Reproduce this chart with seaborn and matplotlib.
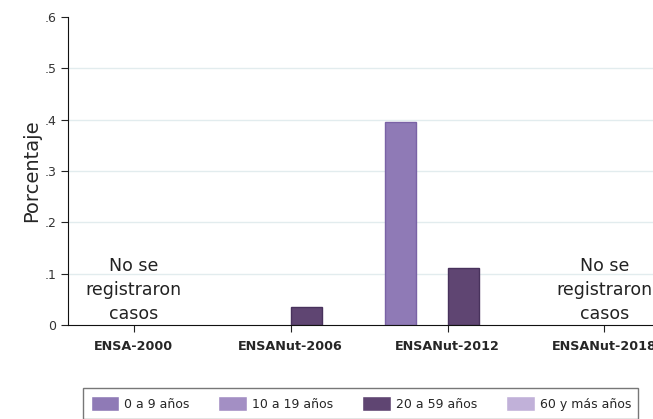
#recreate bar chart of percentage by age group and survey
import numpy as np
import pandas as pd
import matplotlib
matplotlib.use("Agg")
import matplotlib.pyplot as plt
import seaborn as sns

#data
surveys = ["ENSA-2000", "ENSANut-2006", "ENSANut-2012", "ENSANut-2018"]
age_groups = ["0 a 9 años", "10 a 19 años", "20 a 59 años", "60 y más años"]
# rows = survey, cols = age group, nan = no bar
values = [
    [np.nan, np.nan, np.nan, np.nan],
    [np.nan, np.nan, 0.035, np.nan],
    [0.395, np.nan, 0.111, np.nan],
    [np.nan, np.nan, np.nan, np.nan],
]
no_cases = ["ENSA-2000", "ENSANut-2018"]
ytick_vals = [0, 0.1, 0.2, 0.3, 0.4, 0.5, 0.6]
ytick_labels = ["0", ".1", ".2", ".3", ".4", ".5", ".6"]

colors = ["#8f7ab6", "#a38fc4", "#5f4572", "#c1b1d9"]
edges = ["#7a62a6", "#8e78b5", "#48325c", "#a996c8"]

rows = []
for i, s in enumerate(surveys):
    for j, g in enumerate(age_groups):
        rows.append({"survey": s, "grupo": g, "pct": values[i][j]})
df = pd.DataFrame(rows)

sns.set_style("white")
plt.rcParams["font.family"] = ["DejaVu Sans"]

fig = plt.figure(figsize=(6.53, 4.19), dpi=100)
ax = fig.add_axes([68 / 653, 1 - 325 / 419, 1 - 68 / 653, (325 - 17) / 419])

sns.barplot(data=df, x="survey", y="pct", hue="grupo", order=surveys,
            hue_order=age_groups, palette=colors, saturation=1, width=0.8,
            ax=ax, linewidth=1, legend=True)

# darker edge for each hue group
for j, cont in enumerate(ax.containers):
    for bar in cont:
        bar.set_edgecolor(edges[j])

ax.set_xlim(-0.42, 3.31)
ax.set_ylim(0, 0.6)
ax.set_yticks(ytick_vals)
ax.set_yticklabels(ytick_labels, fontsize=9, color="#333333")
ax.set_xticklabels(surveys, fontsize=9.2, fontweight="bold")
for v in ytick_vals[1:-1]:
    ax.axhline(v, color="#e2ecee", lw=1, zorder=0)
ax.set_xlabel("")
ax.set_ylabel("Porcentaje", fontsize=14, labelpad=2)
ax.tick_params(axis="both", length=5, width=0.8, color="#222222", left=True, bottom=True, direction="out")
ax.tick_params(axis="x", pad=6)
sns.despine(ax=ax, top=True, right=True)
ax.spines["left"].set_color("#111111")
ax.spines["bottom"].set_color("#111111")

for s in no_cases:
    ax.text(surveys.index(s), 0.003, "No se\nregistraron\ncasos", ha="center",
            va="bottom", fontsize=12.5, color="#222222", linespacing=1.45)

# legend at bottom of figure
handles, labels = ax.get_legend_handles_labels()
ax.get_legend().remove()
leg = fig.legend(handles, labels, loc="lower left", ncol=4,
                 bbox_to_anchor=(83 / 653, 0.5 / 419),
                 bbox_transform=fig.transFigure, fontsize=9, frameon=True,
                 fancybox=False, handlelength=2.3, handleheight=1.5,
                 borderaxespad=0, borderpad=0.6, columnspacing=2.3,
                 handletextpad=0.4)
leg.get_frame().set_edgecolor("#555555")
leg.get_frame().set_linewidth(1)

fig.savefig("out.png", dpi=100)
plt.close(fig)
